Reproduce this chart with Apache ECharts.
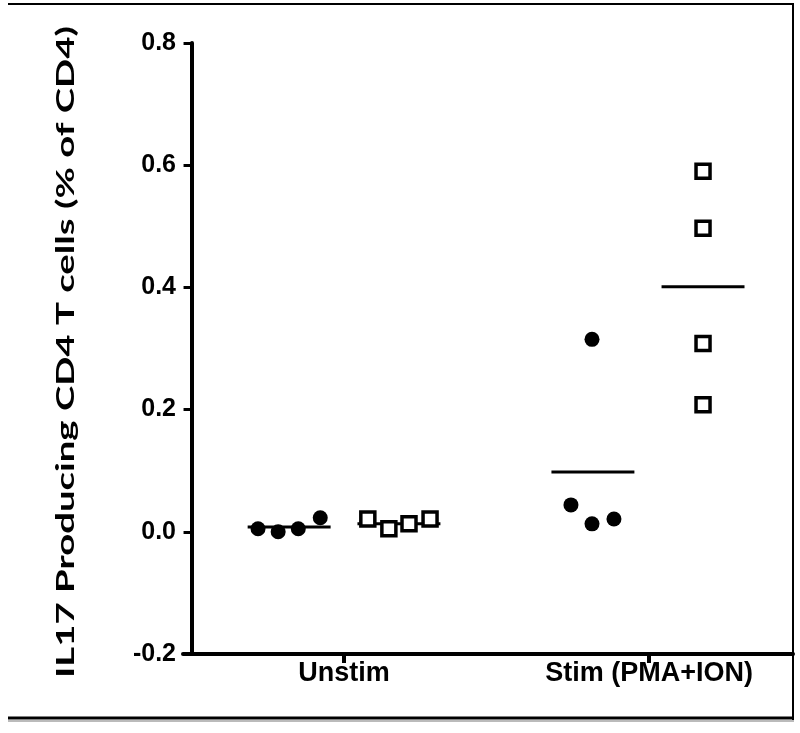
<!DOCTYPE html>
<html>
<head>
<meta charset="utf-8">
<script src="https://cdn.jsdelivr.net/npm/echarts@6/dist/echarts.min.js"></script>
<style>
  html, body { margin: 0; padding: 0; background: #fff; }
  #main { width: 800px; height: 733px; }
</style>
</head>
<body>
<div id="main"></div>
<script>
// categories on the x axis
const categories = ['Unstim', 'Stim (PMA+ION)']
// y axis ticks
const yTicks = [-0.2, 0, 0.2, 0.4, 0.6, 0.8]

// centre of each group column (x axis units, category i sits at i + 0.5)
const groupCenters = [0.32, 0.68, 1.316, 1.677]
// horizontal spread of the points inside a column
const unstimCirclesOffset = [-0.102, -0.036, 0.030, 0.102]
const unstimSquaresOffset = [-0.102, -0.033, 0.033, 0.102]
const stimCirclesOffset = [-0.003, -0.072, -0.003, 0.069]
const stimSquaresOffset = [0, 0, 0, 0]

// IL17 producing CD4 T cells (% of CD4)
const unstimCircles = [0.005, 0.000, 0.005, 0.023]
const unstimSquares = [0.021, 0.005, 0.013, 0.021]
const stimCircles = [0.315, 0.044, 0.013, 0.021]
const stimSquares = [0.590, 0.497, 0.308, 0.208]
// mean bars
const means = [0.008, 0.013, 0.098, 0.401]

const title = 'IL17 Producing CD4 T cells (% of CD4)'
const titleFont = 'bold 25px Lato'

function points(center, offsets, values) {
  return values.map((v, i) => [center + offsets[i], v])
}

// the y title in the figure is stretched along its length
function titleScale() {
  const ctx = document.createElement('canvas').getContext('2d')
  ctx.font = titleFont
  return 652 / ctx.measureText(title).width
}

const chart = echarts.init(document.getElementById('main'), null, { renderer: 'canvas' })

const circleStyle = { color: '#000', opacity: 1 }
const squareStyle = { color: '#fff', borderColor: '#000', borderWidth: 3.5, opacity: 1 }

const option = {
  backgroundColor: '#fff',
  animation: false,
  grid: {
    left: 183,
    right: 7,
    top: 43,
    bottom: 79
  },
  xAxis: {
    type: 'value',
    min: -0.028,
    max: 1.972,
    axisLine: {
      onZero: false,
      lineStyle: { color: '#000', width: 4 }
    },
    axisTick: {
      customValues: categories.map((c, i) => i + 0.5),
      length: 9,
      lineStyle: { color: '#000', width: 4 }
    },
    axisLabel: {
      customValues: categories.map((c, i) => i + 0.5),
      formatter: v => categories[Math.round(v - 0.5)],
      color: '#000',
      fontFamily: 'Liberation Sans',
      fontWeight: 'bold',
      fontSize: 27,
      margin: 6
    },
    splitLine: { show: false }
  },
  yAxis: {
    type: 'value',
    min: yTicks[0],
    max: yTicks[yTicks.length - 1],
    interval: 0.2,
    axisLine: {
      show: true,
      onZero: true,
      lineStyle: { color: '#000', width: 4 }
    },
    axisTick: {
      show: true,
      length: 8,
      lineStyle: { color: '#000', width: 3 }
    },
    axisLabel: {
      formatter: v => v.toFixed(1),
      color: '#000',
      fontFamily: 'Liberation Sans',
      fontWeight: 'bold',
      fontSize: 25,
      margin: 7
    },
    splitLine: { show: false }
  },
  graphic: [
    // frame round the figure
    { type: 'line', shape: { x1: 8, y1: 4, x2: 794, y2: 4 }, style: { stroke: '#000', lineWidth: 2 } },
    { type: 'line', shape: { x1: 793, y1: 4, x2: 793, y2: 720 }, style: { stroke: '#000', lineWidth: 2 } },
    { type: 'line', shape: { x1: 8, y1: 721, x2: 794, y2: 721 }, style: { stroke: '#bbb', lineWidth: 2 } },
    { type: 'line', shape: { x1: 8, y1: 718, x2: 794, y2: 718 }, style: { stroke: '#000', lineWidth: 3 } },
    {
      type: 'text',
      x: 66,
      y: 352,
      rotation: Math.PI / 2,
      scaleX: titleScale(),
      style: {
        text: title,
        font: titleFont,
        fill: '#000',
        align: 'center',
        verticalAlign: 'middle'
      }
    }
  ],
  series: [{
    type: 'scatter',
    name: 'Unstim circles',
    symbol: 'circle',
    symbolSize: 15,
    itemStyle: circleStyle,
    data: points(groupCenters[0], unstimCirclesOffset, unstimCircles)
  }, {
    type: 'scatter',
    name: 'Unstim squares',
    symbol: 'rect',
    symbolSize: 14,
    itemStyle: squareStyle,
    data: points(groupCenters[1], unstimSquaresOffset, unstimSquares)
  }, {
    type: 'scatter',
    name: 'Stim circles',
    symbol: 'circle',
    symbolSize: 15,
    itemStyle: circleStyle,
    data: points(groupCenters[2], stimCirclesOffset, stimCircles)
  }, {
    type: 'scatter',
    name: 'Stim squares',
    symbol: 'rect',
    symbolSize: 14,
    itemStyle: squareStyle,
    data: points(groupCenters[3], stimSquaresOffset, stimSquares)
  }, {
    // mean bars, drawn under the points
    type: 'custom',
    name: 'Mean',
    z: 1,
    data: means.map((m, i) => [groupCenters[i], m]),
    renderItem: (params, api) => {
      const half = 0.136
      const p1 = api.coord([api.value(0) - half, api.value(1)])
      const p2 = api.coord([api.value(0) + half, api.value(1)])
      return {
        type: 'line',
        shape: { x1: p1[0], y1: p1[1], x2: p2[0], y2: p2[1] },
        style: { stroke: '#000', lineWidth: 3 }
      }
    }
  }]
}

chart.setOption(option)
</script>
</body>
</html>
